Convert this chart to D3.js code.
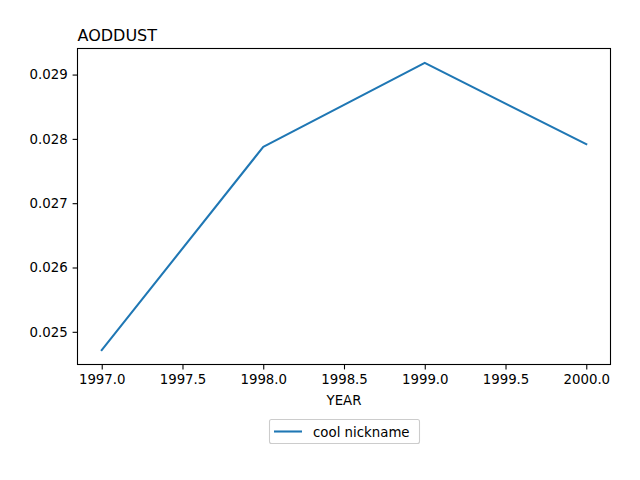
<!DOCTYPE html>
<html><head><meta charset="utf-8">
<script src="https://cdn.jsdelivr.net/npm/d3@7"></script>
<style>body{margin:0;background:#fff}svg{display:block;font-family:"DejaVu Sans",sans-serif}</style>
</head><body>
<svg id="c" width="640" height="480"></svg>
<script>
const years = [1997, 1998, 1999, 2000];
const aoddust = [0.024715, 0.027876, 0.029182, 0.027917];
const xTicks = [1997.0, 1997.5, 1998.0, 1998.5, 1999.0, 1999.5, 2000.0];
const yTicks = [0.025, 0.026, 0.027, 0.028, 0.029];
const seriesName = "cool nickname";
const titleText = "AODDUST";
const xLabel = "YEAR";

const svg = d3.select("#c");
const L = 77.5, R = 610.5, T = 48.5, B = 364.5;
const xmin = d3.min(years), xmax = d3.max(years), xpad = (xmax - xmin) * 0.05;
const ymin = d3.min(aoddust), ymax = d3.max(aoddust), ypad = (ymax - ymin) * 0.05;
const x = d3.scaleLinear().domain([xmin - xpad, xmax + xpad]).range([L, R]);
const y = d3.scaleLinear().domain([ymin - ypad, ymax + ypad]).range([B, T]);

const xAxis = svg.append("g").attr("transform", `translate(0,${B})`)
  .call(d3.axisBottom(x).tickValues(xTicks).tickFormat(d3.format(".1f")).tickSize(4.9).tickPadding(4.9));
const yAxis = svg.append("g").attr("transform", `translate(${L},0)`)
  .call(d3.axisLeft(y).tickValues(yTicks).tickFormat(d3.format(".3f")).tickSize(4.9).tickPadding(4.9));
[xAxis, yAxis].forEach(g => {
  g.select(".domain").remove();
  g.selectAll("line").attr("stroke", "#000").attr("stroke-width", 1.1);
  g.selectAll("text").attr("fill", "#000").style("font-size", "13.33px").style("font-family", "DejaVu Sans");
});

svg.append("path").datum(years.map((d, i) => [d, aoddust[i]]))
  .attr("fill", "none").attr("stroke", "#1f77b4").attr("stroke-width", 2.08)
  .attr("stroke-linejoin", "round").attr("stroke-linecap", "square")
  .attr("d", d3.line().x(d => x(d[0])).y(d => y(d[1])));

svg.append("rect").attr("x", L).attr("y", T).attr("width", R - L).attr("height", B - T)
  .attr("fill", "none").attr("stroke", "#000").attr("stroke-width", 1.1);

svg.append("text").attr("x", L).attr("y", 41).attr("font-size", "16px").attr("fill", "#000").text(titleText);
svg.append("text").attr("x", (L + R) / 2).attr("y", 405).attr("text-anchor", "middle")
  .attr("font-size", "13.33px").attr("fill", "#000").text(xLabel);

const lg = svg.append("g");
lg.append("rect").attr("x", 269.5).attr("y", 419.5).attr("width", 150).attr("height", 24).attr("rx", 2)
  .attr("fill", "#fff").attr("stroke", "#ccc").attr("stroke-width", 1.1);
lg.append("line").attr("x1", 274).attr("x2", 302).attr("y1", 431.5).attr("y2", 431.5)
  .attr("stroke", "#1f77b4").attr("stroke-width", 2.08);
lg.append("text").attr("x", 313).attr("y", 436.5).attr("font-size", "13.33px").attr("fill", "#000").text(seriesName);
</script>
</body></html>
